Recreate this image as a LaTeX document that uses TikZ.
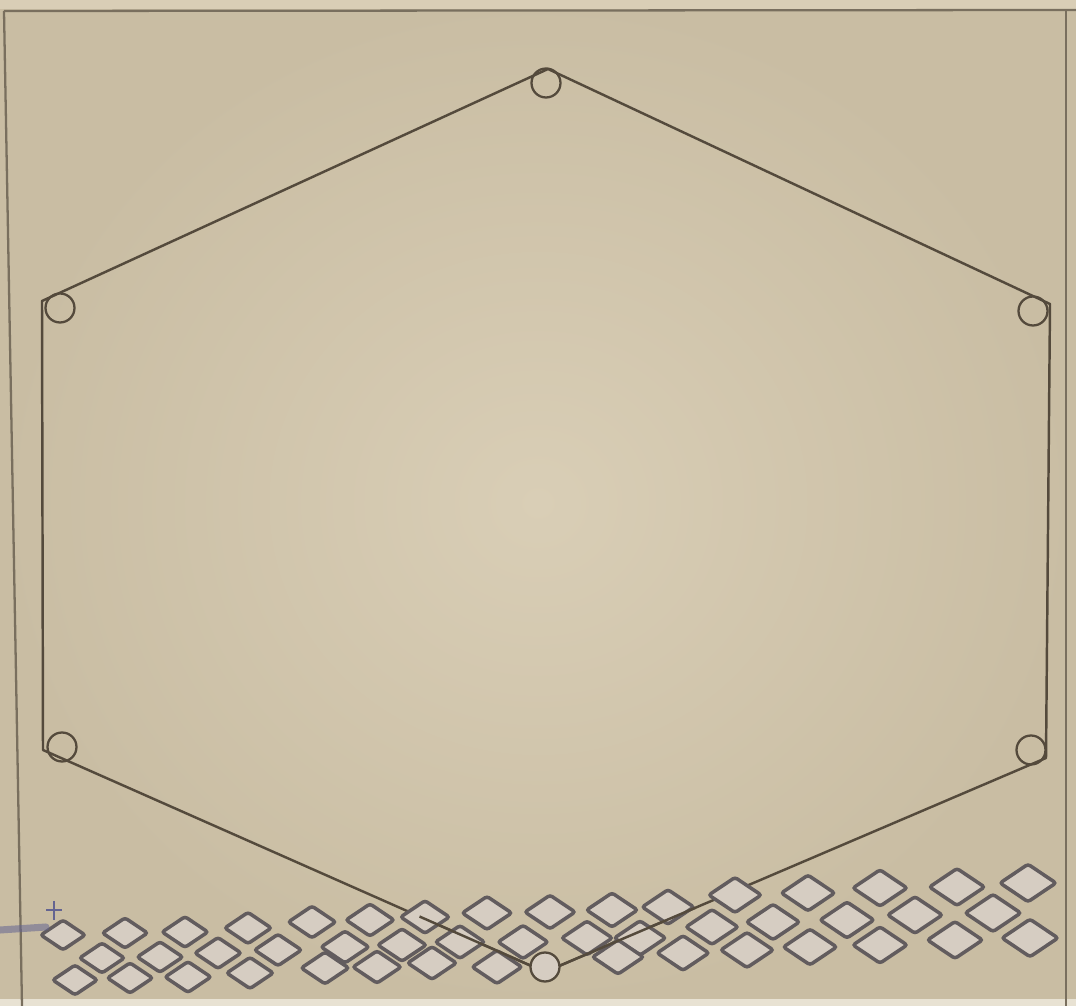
\documentclass[tikz,border=0pt]{standalone}
\usetikzlibrary{shapes.geometric,calc}
\definecolor{paper}{RGB}{207,196,172}
\definecolor{paperlight}{RGB}{217,206,182}
\definecolor{paperdark}{RGB}{201,189,163}
\definecolor{ink}{RGB}{84,74,60}
\definecolor{pencil}{RGB}{98,92,94}
\definecolor{diafill}{RGB}{214,205,194}
\definecolor{blueink}{RGB}{100,100,145}
\tikzset{
  hexline/.style={draw=ink, line width=1.4pt, line join=round},
  vcircle/.style={circle, draw=ink, line width=1.3pt, minimum size=0.58cm, inner sep=0pt},
  dia/.style={diamond, draw=pencil, fill=diafill, line width=2pt, inner sep=0pt, rounded corners=1.5pt},
  frameline/.style={draw=ink!70!paper, line width=1.3pt}
}
\begin{document}
\begin{tikzpicture}[x=0.02cm,y=-0.02cm]
\useasboundingbox (0,0) rectangle (1076,1006);
% paper
\shade[inner color=paperlight, outer color=paperdark] (0,0) rectangle (1076,1006);
\fill[paperlight] (0,0) rectangle (1076,9);
\fill[paperlight!60!white] (0,999) rectangle (1076,1006);
% frame
\coordinate (f1) at (4,11);
\coordinate (f2) at (1076,10);
\coordinate (f3) at (22,1006);
\coordinate (f4) at (1066,1006);
\coordinate (f5) at (1066,10);
\draw[frameline] (f1) -- (f2);
\draw[frameline] (f1) -- (f3);
\draw[frameline] (f5) -- (f4);
% hexagon corners
\coordinate (T) at (548,69);
\coordinate (UL) at (42,301);
\coordinate (LL) at (43,750);
\coordinate (B) at (545,972);
\coordinate (LR) at (1046,758);
\coordinate (UR) at (1050,304);
\draw[hexline] (T) -- (UL) -- (LL) -- (B) -- (LR) -- (UR) -- cycle;
% vertex circles
\node[vcircle] (cT) at (546,83) {};
\node[vcircle] (cUL) at (60,308) {};
\node[vcircle] (cUR) at (1033,311) {};
\node[vcircle] (cLL) at (62,747) {};
\node[vcircle] (cLR) at (1031,750) {};
% diamonds
\foreach \x/\y [count=\i] in {63/935,125/933,185/932,248/928,312/922,370/920,425/917,487/913,550/912,612/910,668/907,735/895,808/893,880/888,957/887,1028/883}{
  \pgfmathsetmacro\w{(45+0.012*\x)*0.02}
  \pgfmathsetmacro\h{(45+0.012*\x)*0.68*0.02}
  \node[dia, minimum width=\w cm, minimum height=\h cm] (ta\i) at (\x,\y) {};
}
\foreach \x/\y [count=\i] in {102/958,160/957,218/953,278/950,345/947,402/945,460/942,523/942,587/938,640/938,712/927,773/922,847/920,915/915,993/913}{
  \pgfmathsetmacro\w{(45+0.012*\x)*0.02}
  \pgfmathsetmacro\h{(45+0.012*\x)*0.68*0.02}
  \node[dia, minimum width=\w cm, minimum height=\h cm] (mi\i) at (\x,\y) {};
}
\foreach \x/\y [count=\i] in {75/980,130/978,188/977,250/973,325/968,377/967,432/963,497/967,618/957,683/953,747/950,810/947,880/945,955/940,1030/938}{
  \pgfmathsetmacro\w{(45+0.012*\x)*0.02}
  \pgfmathsetmacro\h{(45+0.012*\x)*0.68*0.02}
  \node[dia, minimum width=\w cm, minimum height=\h cm] (bo\i) at (\x,\y) {};
}
% hexagon lines crossing the diamonds
\draw[hexline] ($(B)!0.25!(LL)$) -- (B) -- ($(B)!0.3!(LR)$);
% bottom vertex circle over diamonds
\node[vcircle, fill=diafill] (cB) at (545,967) {};
% left pencil marks
\coordinate (s1) at (0,930);
\coordinate (s2) at (46,927);
\draw[blueink, line width=4pt, line cap=round, opacity=0.55] (s1) -- (s2);
\coordinate (p1) at (46,910);
\coordinate (p2) at (62,910);
\coordinate (p3) at (54,901);
\coordinate (p4) at (54,920);
\draw[blueink, line width=1pt] (p1) -- (p2) (p3) -- (p4);
\end{tikzpicture}
\end{document}
